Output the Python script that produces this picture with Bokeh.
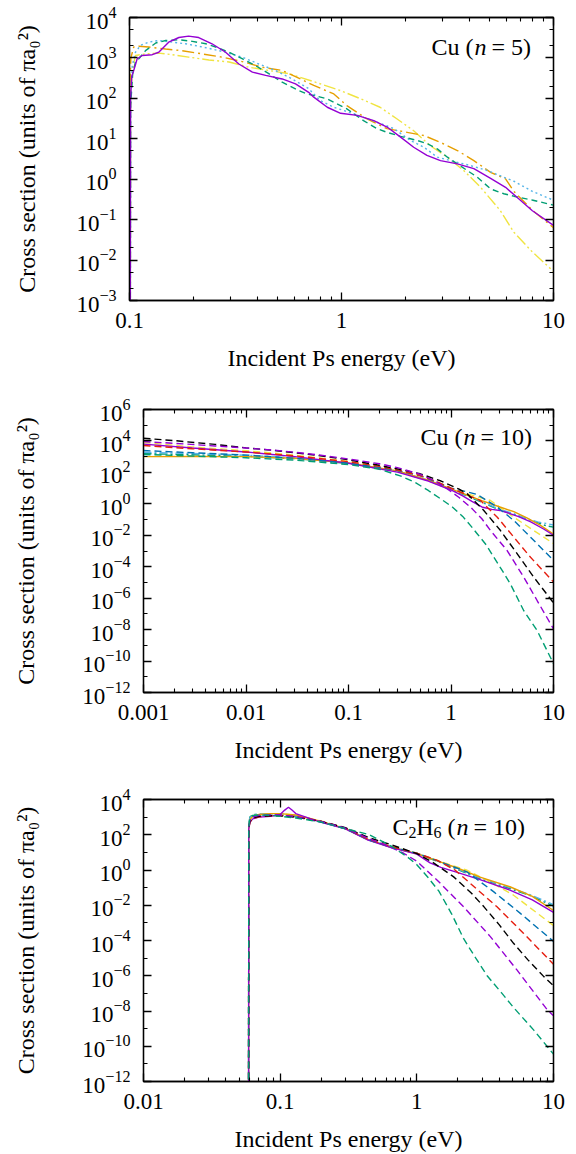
import numpy as np
from bokeh.plotting import figure
from bokeh.models import Range1d, FixedTicker, LogAxis, Label, LogTickFormatter
from bokeh.embed import file_html
from bokeh.resources import INLINE

SERIF = "Liberation Serif, DejaVu Serif"
PURPLE, GREEN, SKY, ORANGE = "#9400d3", "#009e73", "#56b4e9", "#e69f00"
YELLOW, BLUE, RED, BLACK = "#f0e442", "#0072b2", "#e51e10", "#000000"

# ---------------- Cu (n = 5): energy (eV), log10 cross section ----------------
cu5_solid_E = [0.1, 0.1012, 0.1025, 0.1047, 0.1087, 0.1148, 0.128, 0.1374, 0.153, 0.171, 0.19, 0.212,
               0.245, 0.284, 0.328, 0.38, 0.439, 0.525, 0.607, 0.70, 0.74, 0.857, 0.99, 1.186, 1.42,
               1.64, 1.9, 2.19, 2.53, 2.93, 3.52, 4.21, 5.05, 5.94, 6.5, 7.95, 10]
cu5_solid_L = [-20, 2.0, 2.55, 2.69, 2.98, 3.06, 3.08, 3.14, 3.39, 3.505, 3.54, 3.505, 3.35, 3.14,
               2.85, 2.65, 2.57, 2.48, 2.36, 2.15, 2.03, 1.78, 1.63, 1.58, 1.45, 1.29, 1.04, 0.79,
               0.59, 0.46, 0.38, 0.26, 0.02, -0.2, -0.38, -0.78, -1.14]

cu5_dash_E = [0.1, 0.1012, 0.1035, 0.1067, 0.1107, 0.119, 0.133, 0.148, 0.171, 0.198, 0.229, 0.255,
              0.295, 0.34, 0.393, 0.454, 0.525, 0.63, 0.689, 0.855, 1.06, 1.27, 1.47, 1.64, 1.9,
              2.27, 2.53, 2.83, 3.16, 3.52, 3.92, 4.37, 5.05, 5.83, 6.5, 8.0, 10]
cu5_dash_L = [-20, 1.8, 2.6, 2.9, 2.98, 3.18, 3.37, 3.43, 3.45, 3.41, 3.35, 3.27, 3.14, 2.98, 2.81,
              2.61, 2.4, 2.19, 2.11, 1.99, 1.74, 1.45, 1.25, 1.16, 1.06, 0.96, 0.88, 0.75, 0.545,
              0.38, 0.215, 0.05, -0.24, -0.36, -0.42, -0.52, -0.64]

cu5_dot_E = [0.1, 0.1012, 0.103, 0.1067, 0.1126, 0.123, 0.137, 0.159, 0.184, 0.212, 0.245, 0.284,
             0.34, 0.407, 0.488, 0.585, 0.701, 0.79, 0.92, 1.14, 1.47, 1.77, 2.11, 2.45, 2.83, 3.27,
             4.04, 4.88, 5.83, 6.5, 7.95, 10]
cu5_dot_L = [-20, 2.0, 2.8, 3.14, 3.31, 3.39, 3.43, 3.39, 3.35, 3.29, 3.22, 3.14, 3.02, 2.85, 2.69,
             2.48, 2.24, 1.95, 1.78, 1.62, 1.41, 1.25, 0.96, 0.79, 0.545, 0.46, 0.34, 0.215, 0.05,
             -0.05, -0.3, -0.52]

cu5_dashdot_E = [0.1, 0.1005, 0.1015, 0.1047, 0.1107, 0.123, 0.148, 0.177, 0.22, 0.273, 0.34, 0.423,
                 0.525, 0.641, 0.74, 0.92, 1.06, 1.32, 1.64, 2.04, 2.45, 2.93, 3.52, 4.21, 5.05,
                 5.94, 6.5, 8.0, 10]
cu5_dashdot_L = [-20, 2.3, 3.0, 3.27, 3.29, 3.27, 3.22, 3.18, 3.10, 3.02, 2.91, 2.77, 2.69, 2.48,
                 2.32, 2.11, 1.82, 1.49, 1.25, 1.16, 1.08, 0.91, 0.71, 0.46, 0.17, 0.01, -0.3,
                 -0.78, -1.2]

cu5_dashdotdot_E = [0.1, 0.1012, 0.103, 0.1067, 0.119, 0.137, 0.159, 0.19, 0.237, 0.295, 0.366,
                    0.454, 0.565, 0.753, 0.99, 1.23, 1.52, 1.83, 2.19, 2.62, 3.16, 3.77, 4.53, 5.6,
                    6.5, 7.95, 10]
cu5_dashdotdot_L = [-20, 1.8, 2.7, 3.06, 3.10, 3.12, 3.08, 3.02, 2.95, 2.90, 2.77, 2.69, 2.61, 2.40,
                    2.19, 1.99, 1.78, 1.49, 1.2, 0.83, 0.545, 0.215, -0.2, -0.77, -1.31, -1.8, -2.28]

# ---------------- Cu (n = 10) ----------------
cu10_black_E = [0.001, 0.002, 0.005, 0.01, 0.02, 0.05, 0.1, 0.2, 0.3, 0.5, 0.8, 1.2, 1.44, 2.09,
                3.04, 4.43, 6.43, 10]
cu10_black_L = [4.17, 4.02, 3.78, 3.56, 3.38, 3.08, 2.8, 2.45, 2.22, 1.91, 1.45, 0.93, 0.64, -0.42,
                -1.7, -3.18, -4.67, -6.3]
cu10_purple_E = [0.001, 0.002, 0.005, 0.01, 0.02, 0.05, 0.1, 0.2, 0.3, 0.5, 0.7, 0.92, 1.2, 1.55,
                 2.0, 2.43, 3.53, 5.13, 6.92, 10]
cu10_purple_L = [3.96, 3.85, 3.68, 3.55, 3.4, 3.12, 2.85, 2.55, 2.3, 1.88, 1.45, 0.95, 0.4, -0.21,
                 -0.95, -1.7, -2.97, -4.67, -6.15, -7.95]
cu10_red_E = [0.001, 0.003, 0.01, 0.03, 0.1, 0.2, 0.3, 0.5, 0.7, 1.0, 1.4, 1.94, 2.83, 4.1, 5.97, 10]
cu10_red_L = [3.71, 3.5, 3.3, 3.05, 2.68, 2.38, 2.15, 1.8, 1.45, 1.0, 0.6, 0.21, -0.85, -2.12, -3.4,
              -4.97]
cu10_blue_E = [0.001, 0.003, 0.01, 0.03, 0.1, 0.2, 0.3, 0.5, 0.7, 1.0, 1.4, 1.8, 2.83, 4.1, 5.97, 10]
cu10_blue_L = [3.39, 3.25, 3.1, 2.9, 2.58, 2.32, 2.12, 1.78, 1.42, 1.0, 0.78, 0.6, -0.21, -1.06,
               -2.12, -3.59]
cu10_yellow_E = [0.001, 0.003, 0.01, 0.03, 0.1, 0.2, 0.3, 0.5, 0.7, 1.0, 1.5, 2.43, 4.1, 6.43, 10]
cu10_yellow_L = [3.9, 3.62, 3.38, 3.1, 2.7, 2.4, 2.18, 1.82, 1.45, 1.0, 0.6, 0.21, -0.85, -1.7, -2.53]
cu10_green_E = [0.001, 0.003, 0.01, 0.03, 0.1, 0.2, 0.32, 0.45, 0.6, 0.8, 1.03, 1.3, 1.56, 1.8, 2.2,
                2.62, 3.2, 3.8, 5.13, 6.92, 10]
cu10_green_L = [3.14, 3.04, 2.93, 2.78, 2.5, 2.2, 1.78, 1.35, 0.85, 0.3, -0.2, -0.8, -1.4, -1.9, -2.6,
                -3.4, -4.3, -5.1, -6.8, -8.06, -10.16]
cu10_orange_E = [0.001, 0.003, 0.01, 0.03, 0.1, 0.3, 0.6, 1.0, 1.5, 2.0, 3.0, 4.1, 5.5, 7.4, 10]
cu10_orange_L = [3.0, 3.02, 3.0, 2.9, 2.6, 2.1, 1.5, 0.95, 0.5, 0.2, -0.2, -0.5, -0.9, -1.35, -1.93]
cu10_psolid_E = [0.001, 0.003, 0.01, 0.03, 0.1, 0.3, 0.6, 1.0, 1.3, 1.6, 2.0, 2.5, 3.0, 3.5, 4.5, 6.0,
                 8.0, 10]
cu10_psolid_L = [3.8, 3.55, 3.3, 3.0, 2.58, 2.02, 1.45, 0.88, 0.5, 0.15, -0.2, -0.35, -0.42, -0.55,
                 -0.8, -1.15, -1.6, -2.0]
cu10_sky_E = [0.001, 0.003, 0.01, 0.03, 0.1, 0.3, 0.6, 1.0, 1.5, 2.0, 3.0, 4.0, 5.5, 7.0, 8.5, 10]
cu10_sky_L = [3.28, 3.2, 3.1, 2.92, 2.6, 2.08, 1.5, 0.92, 0.5, 0.15, -0.35, -0.6, -0.95, -1.15, -1.25,
              -1.35]
cu10_teal_E = [0.001, 0.003, 0.01, 0.03, 0.1, 0.3, 0.6, 1.0, 1.5, 2.0, 3.0, 4.0, 5.5, 7.0, 8.5, 10]
cu10_teal_L = [3.2, 3.12, 3.02, 2.88, 2.57, 2.06, 1.48, 0.9, 0.45, 0.1, -0.4, -0.65, -0.95, -1.2,
               -1.4, -1.48]

# ---------------- C2H6 (n = 10) ----------------
c2_black_E = [0.0587, 0.0589, 0.06, 0.063, 0.07, 0.085, 0.1, 0.13, 0.2, 0.3, 0.44, 0.64, 1.0, 1.3,
              1.86, 2.5, 3.1, 4.0, 5.1, 6.5, 8.5, 10]
c2_black_L = [-20, 2.35, 2.75, 2.95, 3.05, 3.08, 3.07, 3.0, 2.75, 2.4, 1.85, 1.45, 0.93, 0.45, -0.39,
              -1.3, -2.09, -3.1, -4.16, -5.1, -6.05, -6.57]
c2_purple_E = [0.0587, 0.0589, 0.06, 0.063, 0.07, 0.085, 0.1, 0.13, 0.2, 0.3, 0.44, 0.6, 0.8, 1.0,
               1.41, 2.2, 3.45, 5.4, 9.0, 10]
c2_purple_L = [-20, 2.4, 2.8, 3.0, 3.1, 3.13, 3.12, 3.03, 2.75, 2.38, 1.8, 1.4, 0.95, 0.5, -0.58,
               -2.09, -3.78, -5.67, -7.93, -8.27]
c2_red_E = [0.0587, 0.0589, 0.06, 0.063, 0.07, 0.085, 0.1, 0.13, 0.2, 0.3, 0.44, 0.64, 1.0, 1.41,
            1.9, 2.47, 3.86, 6.05, 10]
c2_red_L = [-20, 2.3, 2.7, 2.92, 3.02, 3.08, 3.1, 3.04, 2.76, 2.38, 1.75, 1.35, 0.95, 0.55, 0.0,
            -0.77, -2.09, -3.6, -5.35]
c2_blue_E = [0.0587, 0.0589, 0.06, 0.063, 0.07, 0.085, 0.1, 0.13, 0.2, 0.3, 0.44, 0.64, 1.0, 1.5,
             2.33, 3.66, 5.72, 10]
c2_blue_L = [-20, 2.4, 2.85, 3.02, 3.1, 3.12, 3.1, 3.02, 2.72, 2.35, 1.72, 1.32, 0.95, 0.45, -0.11,
             -1.24, -2.46, -4.05]
c2_yellow_E = [0.0587, 0.0589, 0.06, 0.063, 0.07, 0.085, 0.1, 0.13, 0.2, 0.3, 0.44, 0.64, 1.0, 1.6,
               2.3, 3.27, 5.1, 10]
c2_yellow_L = [-20, 2.35, 2.8, 3.0, 3.12, 3.18, 3.2, 3.1, 2.78, 2.38, 1.74, 1.33, 0.95, 0.4, 0.0,
               -0.58, -1.43, -3.15]
c2_green_E = [0.0587, 0.0589, 0.06, 0.063, 0.07, 0.085, 0.1, 0.13, 0.2, 0.3, 0.45, 0.65, 0.85, 1.0,
              1.2, 1.45, 1.8, 2.2, 2.7, 3.27, 4.2, 5.1, 7.2, 10]
c2_green_L = [-20, 2.45, 2.95, 3.1, 3.12, 3.1, 3.05, 2.95, 2.72, 2.35, 2.0, 1.35, 0.75, 0.3, -0.4,
              -1.2, -2.5, -3.9, -5.0, -6.0, -7.0, -7.8, -9.1, -10.45]
c2_orange_E = [0.0587, 0.0589, 0.06, 0.063, 0.07, 0.085, 0.1, 0.13, 0.2, 0.3, 0.44, 0.64, 1.0, 1.5,
               2.0, 2.9, 4.8, 7.0, 10]
c2_orange_L = [-20, 2.4, 2.85, 3.05, 3.15, 3.2, 3.2, 3.12, 2.75, 2.35, 1.72, 1.3, 0.92, 0.45, 0.1,
               -0.4, -0.95, -1.5, -2.3]
c2_psolid_E = [0.0587, 0.0589, 0.06, 0.063, 0.07, 0.085, 0.1, 0.108, 0.115, 0.122, 0.13, 0.2, 0.3,
               0.44, 0.64, 1.0, 1.25, 1.5, 2.0, 2.9, 4.8, 7.0, 10]
c2_psolid_L = [-20, 2.3, 2.7, 2.9, 3.0, 3.05, 3.15, 3.4, 3.56, 3.4, 3.2, 2.7, 2.33, 1.7, 1.28, 0.9,
               0.4, 0.15, -0.15, -0.55, -1.14, -1.7, -2.4]
c2_sky_E = [0.0587, 0.0589, 0.06, 0.063, 0.07, 0.085, 0.1, 0.13, 0.2, 0.3, 0.44, 0.64, 1.0, 1.5, 2.0,
            2.9, 4.8, 7.0, 10]
c2_sky_L = [-20, 2.5, 2.95, 3.12, 3.18, 3.2, 3.18, 3.08, 2.74, 2.36, 1.74, 1.32, 0.95, 0.45, 0.05,
            -0.45, -1.0, -1.45, -1.97]
c2_teal_E = [0.0587, 0.0589, 0.06, 0.063, 0.07, 0.085, 0.1, 0.13, 0.2, 0.3, 0.44, 0.64, 1.0, 1.5,
             2.0, 2.9, 4.8, 7.0, 10]
c2_teal_L = [-20, 2.5, 3.0, 3.15, 3.15, 3.12, 3.1, 3.02, 2.72, 2.34, 1.72, 1.3, 0.93, 0.42, 0.02,
             -0.5, -1.05, -1.5, -2.05]


def decade_minors(lo, hi, mults):
    return [m * 10.0 ** k for k in range(lo, hi) for m in mults]


def style_axis(ax, show_labels):
    ax.major_tick_in = 8
    ax.major_tick_out = 0
    ax.minor_tick_in = 4
    ax.minor_tick_out = 0
    ax.axis_line_width = 1.3
    ax.major_tick_line_width = 1.3
    ax.minor_tick_line_width = 1.1
    ax.axis_line_color = "black"
    ax.major_tick_line_color = "black"
    ax.minor_tick_line_color = "black"
    if show_labels:
        ax.major_label_text_font = SERIF
        ax.major_label_text_font_size = "23px"
        ax.major_label_text_color = "black"
        ax.major_label_standoff = 12
        ax.axis_label_text_font = SERIF
        ax.axis_label_text_font_size = "24px"
        ax.axis_label_text_font_style = "normal"
        ax.axis_label_text_color = "black"
        ax.axis_label_standoff = 14
    else:
        ax.major_label_text_font_size = "1px"
        ax.major_label_text_color = None
        ax.major_label_standoff = 0


def label(p, text, x, y, size=24, style="normal", align="left", y_off=0):
    p.add_layout(Label(x=x, y=y, x_units="screen", y_units="screen", text=text,
                       y_offset=y_off, text_font=SERIF, text_font_size=f"{size}px",
                       text_font_style=style, text_baseline="middle", text_align=align,
                       text_color="black"))


def make_panel(height, top, bottom, left, xr, yr, xmaj, xmin, ymaj, ymin, ytitle_gap):
    p = figure(width=576, height=height, x_axis_type="log", y_axis_type="log",
               x_range=Range1d(*xr), y_range=Range1d(*yr),
               output_backend="svg", toolbar_location=None,
               min_border_left=left, min_border_right=23,
               min_border_top=top, min_border_bottom=bottom)
    p.grid.visible = False
    p.outline_line_color = "black"
    p.outline_line_width = 1.3
    p.background_fill_color = "white"
    p.border_fill_color = "white"

    xt = FixedTicker(ticks=xmaj, minor_ticks=xmin)
    yt = FixedTicker(ticks=ymaj, minor_ticks=ymin)
    xa = p.xaxis[0]
    ya = p.yaxis[0]
    xa.ticker = xt
    ya.ticker = yt
    ya.formatter = LogTickFormatter()
    xa.major_label_overrides = {v: ("%g" % v) for v in xmaj}
    style_axis(xa, True)
    style_axis(ya, True)
    ya.major_label_standoff = 13
    xa.axis_label = "Incident Ps energy (eV)"
    ya.axis_label = "Cross section (units of πa₀²)"
    ya.axis_label_standoff = ytitle_gap

    top_ax = LogAxis(ticker=xt)
    style_axis(top_ax, False)
    p.add_layout(top_ax, "above")
    right_ax = LogAxis(ticker=yt)
    style_axis(right_ax, False)
    p.add_layout(right_ax, "right")
    return p


def curve(p, E, L, color, dash="solid", width=1.4):
    p.line(np.array(E), 10.0 ** np.array(L), line_color=color, line_width=width,
           line_dash=dash)


DASH = "7 4"

# ---- panel 1: Cu (n = 5)
p1 = make_panel(391, 17, 91, 129, (0.1, 10), (1e-3, 1e4),
                [0.1, 1.0, 10.0], decade_minors(-1, 1, range(2, 10)),
                [10.0 ** k for k in range(-3, 5)], decade_minors(-3, 4, [2, 5]), 33)
curve(p1, cu5_dashdotdot_E, cu5_dashdotdot_L, YELLOW, "12 3 2 3 2 3")
curve(p1, cu5_dashdot_E, cu5_dashdot_L, ORANGE, "12 4 2 4")
curve(p1, cu5_dot_E, cu5_dot_L, SKY, "2 3")
curve(p1, cu5_dash_E, cu5_dash_L, GREEN, "6 4")
curve(p1, cu5_solid_E, cu5_solid_L, PURPLE)
label(p1, "Cu (", 344, 254, align="right")
label(p1, "n", 345, 254, style="italic")
label(p1, "= 5)", 362, 254)

# ---- panel 2: Cu (n = 10)
p2 = make_panel(390, 18, 89, 143, (1e-3, 10), (1e-12, 1e6),
                [0.001, 0.01, 0.1, 1.0, 10.0], decade_minors(-3, 1, range(2, 10)),
                [10.0 ** k for k in range(-12, 7, 2)], [10.0 ** k for k in range(-11, 6, 2)], 40)
curve(p2, cu10_teal_E, cu10_teal_L, GREEN, "8 3 2 3")
curve(p2, cu10_sky_E, cu10_sky_L, SKY, "8 3 2 3")
curve(p2, cu10_yellow_E, cu10_yellow_L, YELLOW, DASH)
curve(p2, cu10_orange_E, cu10_orange_L, ORANGE)
curve(p2, cu10_psolid_E, cu10_psolid_L, PURPLE)
curve(p2, cu10_blue_E, cu10_blue_L, BLUE, DASH)
curve(p2, cu10_red_E, cu10_red_L, RED, DASH)
curve(p2, cu10_black_E, cu10_black_L, BLACK, DASH)
curve(p2, cu10_purple_E, cu10_purple_L, PURPLE, DASH)
curve(p2, cu10_green_E, cu10_green_L, GREEN, DASH)
label(p2, "Cu (", 319, 256, align="right")
label(p2, "n", 320, 256, style="italic")
label(p2, "= 10)", 337, 256)

# ---- panel 3: C2H6 (n = 10)
p3 = make_panel(373, 18, 72, 143, (1e-2, 10), (1e-12, 1e4),
                [0.01, 0.1, 1.0, 10.0], decade_minors(-2, 1, range(2, 10)),
                [10.0 ** k for k in range(-12, 5, 2)], [10.0 ** k for k in range(-11, 4, 2)], 40)
curve(p3, c2_teal_E, c2_teal_L, GREEN, "8 3 2 3")
curve(p3, c2_sky_E, c2_sky_L, SKY, "8 3 2 3")
curve(p3, c2_yellow_E, c2_yellow_L, YELLOW, DASH)
curve(p3, c2_orange_E, c2_orange_L, ORANGE)
curve(p3, c2_psolid_E, c2_psolid_L, PURPLE)
curve(p3, c2_blue_E, c2_blue_L, BLUE, DASH)
curve(p3, c2_red_E, c2_red_L, RED, DASH)
curve(p3, c2_black_E, c2_black_L, BLACK, DASH)
curve(p3, c2_purple_E, c2_purple_L, PURPLE, DASH)
curve(p3, c2_green_E, c2_green_L, GREEN, DASH)
A3 = 312
label(p3, "(", A3, 255, align="right")
label(p3, "6", A3 - 14, 255, size=16, align="right", y_off=-6)
label(p3, "H", A3 - 22, 255, align="right")
label(p3, "2", A3 - 39, 255, size=16, align="right", y_off=-6)
label(p3, "C", A3 - 47, 255, align="right")
label(p3, "n", A3 + 1, 255, style="italic")
label(p3, "= 10)", A3 + 18, 255)

open("out.html", "w").write(file_html([p1, p2, p3], INLINE))
